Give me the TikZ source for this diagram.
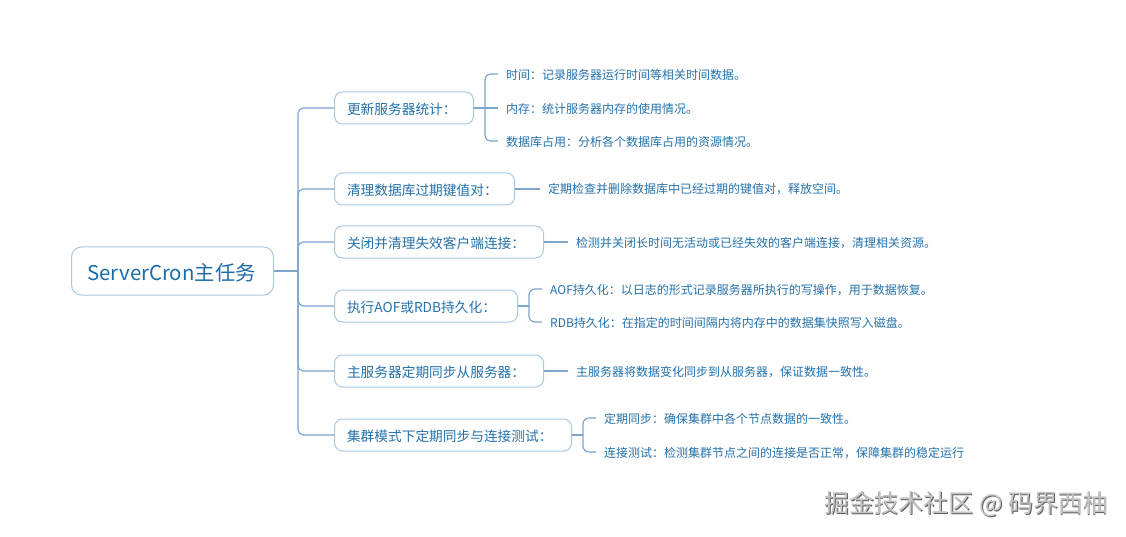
\documentclass[tikz,border=0pt]{standalone}
\usepackage{fontspec}
\setmainfont{Noto Sans CJK SC}
\definecolor{inkblue}{HTML}{2472AC}
\definecolor{rootblue}{HTML}{1B6CA8}
\definecolor{edgeblue}{HTML}{A9C8E2}
\definecolor{wireblue}{HTML}{7FA5CB}
\definecolor{markgray}{HTML}{C4C4C4}
\definecolor{markshade}{HTML}{5E5E5E}
\newcommand{\shadedmark}[1]{\leavevmode\rlap{\kern0.9pt\raisebox{-0.9pt}{\textcolor{markshade}{#1}}}\textcolor{markgray}{#1}}
\tikzset{
  x=1pt,y=-1pt,
  rootbox/.style={draw=edgeblue,line width=1pt,rounded corners=10pt,fill=white,anchor=west,
    minimum height=48pt,inner xsep=16pt,inner ysep=0pt,text=rootblue,text height=21pt,text depth=2.5pt,font=\fontsize{20.4pt}{24pt}\selectfont},
  topicbox/.style={draw=edgeblue,line width=1pt,rounded corners=8pt,fill=white,anchor=west,
    minimum height=32pt,inner xsep=12.5pt,inner ysep=0pt,text=inkblue,text height=14pt,text depth=1.6pt,font=\fontsize{13.7pt}{16pt}\selectfont},
  leaf/.style={anchor=west,inner xsep=8pt,inner ysep=2pt,text=inkblue,text height=13pt,text depth=1.8pt,font=\fontsize{12pt}{14pt}\selectfont},
  wire/.style={draw=wireblue,line width=1.2pt,rounded corners=6pt},
  watermark/.style={anchor=west,inner sep=0pt,font=\fontsize{24.9pt}{28pt}\selectfont},
}
\begin{document}
\begin{tikzpicture}
\useasboundingbox[fill=white] (0,0) rectangle (1126,537);
% root
\node[rootbox,text width=170pt] (root) at (71,271) {ServerCron主任务};
% topics
\node[topicbox,text width=114pt] (t1) at (334,108) {更新服务器统计：};
\node[topicbox,text width=155pt] (t2) at (334,189) {清理数据库过期键值对：};
\node[topicbox,text width=184pt] (t3) at (334,242) {关闭并清理失效客户端连接：};
\node[topicbox,text width=158pt] (t4) at (334,306) {执行AOF或RDB持久化：};
\node[topicbox,text width=184pt] (t5) at (334,371) {主服务器定期同步从服务器：};
\node[topicbox,text width=212pt] (t6) at (334,435) {集群模式下定期同步与连接测试：};
% leaves
\node[leaf] (l1a) at (498,74) {时间：记录服务器运行时间等相关时间数据。};
\node[leaf] (l1b) at (498,108) {内存：统计服务器内存的使用情况。};
\node[leaf] (l1c) at (498,141) {数据库占用：分析各个数据库占用的资源情况。};
\node[leaf] (l2) at (540,188) {定期检查并删除数据库中已经过期的键值对，释放空间。};
\node[leaf] (l3) at (568,242) {检测并关闭长时间无活动或已经失效的客户端连接，清理相关资源。};
\node[leaf] (l4a) at (542,289) {AOF持久化：以日志的形式记录服务器所执行的写操作，用于数据恢复。};
\node[leaf] (l4b) at (542,322) {RDB持久化：在指定的时间间隔内将内存中的数据集快照写入磁盘。};
\node[leaf] (l5) at (568,371) {主服务器将数据变化同步到从服务器，保证数据一致性。};
\node[leaf] (l6a) at (596,418) {定期同步：确保集群中各个节点数据的一致性。};
\node[leaf] (l6b) at (596,452) {连接测试：检测集群节点之间的连接是否正常，保障集群的稳定运行};
% branch points
\coordinate (spine) at (298,271);
\coordinate (b1) at (485,108);
\coordinate (b4) at (529,306);
\coordinate (b6) at (583,435);
% connectors
\draw[wire] (root.east) -- (spine);
\foreach \t in {t1,t2,t3,t4,t5,t6} \draw[wire] (spine) |- (\t.west);
\draw[wire] (t1.east) -- (l1b.west);
\draw[wire] (b1) |- (l1a.west);
\draw[wire] (b1) |- (l1c.west);
\draw[wire] (t2.east) -- (t2.east -| l2.west);
\draw[wire] (t3.east) -- (l3.west);
\draw[wire] (t4.east) -- (b4);
\draw[wire] (b4) |- (l4a.west);
\draw[wire] (b4) |- (l4b.west);
\draw[wire] (t5.east) -- (l5.west);
\draw[wire] (t6.east) -- (b6);
\draw[wire] (b6) |- (l6a.west);
\draw[wire] (b6) |- (l6b.west);
% watermark
\node[watermark] (mark) at (824,505) {\shadedmark{掘金技术社区 @ 码界西柚}};
\end{tikzpicture}
\end{document}
